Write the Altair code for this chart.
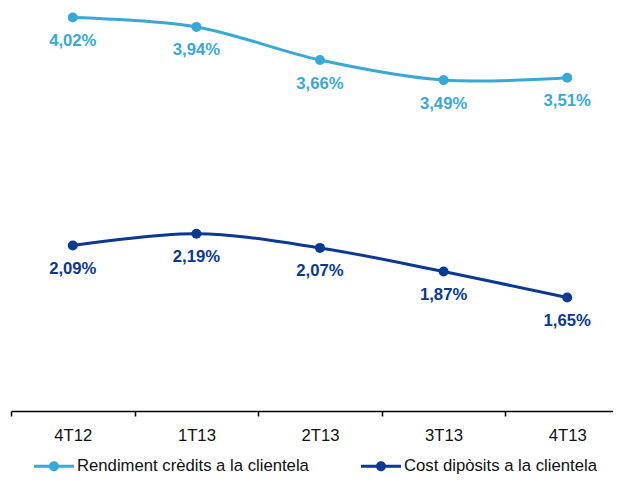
import altair as alt
import pandas as pd

periods = ["4T12", "1T13", "2T13", "3T13", "4T13"]
series_names = ["Rendiment crèdits a la clientela", "Cost dipòsits a la clientela"]
rendiment = [4.02, 3.94, 3.66, 3.49, 3.51]
cost = [2.09, 2.19, 2.07, 1.87, 1.65]
colors = ["#38A9D7", "#0A3893"]

rows = []
for p, v in zip(periods, rendiment):
    rows.append({"period": p, "series": series_names[0], "value": v})
for p, v in zip(periods, cost):
    rows.append({"period": p, "series": series_names[1], "value": v})
df = pd.DataFrame(rows)

FONT = "Liberation Sans"
FS = 16.7

xenc = alt.X(
    "period:N",
    sort=periods,
    bandPosition=0.5,
    scale=alt.Scale(type="band", domain=periods, paddingInner=0, paddingOuter=0,
                    range=[0, 618]),
    axis=alt.Axis(
        title=None,
        labelAngle=0,
        tickBand="extent",
        tickSize=5,
        tickColor="#000000",
        domainColor="#000000",
        domainWidth=1.5,
        tickWidth=1.5,
        labelFont=FONT,
        labelFontSize=FS,
        labelColor="#111111",
        labelPadding=11,
        grid=False,
    ),
)
yenc = alt.Y(
    "value:Q",
    scale=alt.Scale(domain=[0.69, 4.1], nice=False, zero=False),
    axis=None,
)
color_scale = alt.Scale(domain=series_names, range=colors)

legend = alt.Legend(
    title=None,
    orient="none",
    legendX=23,
    legendY=438,
    direction="horizontal",
    symbolType="M-1,-0.075H1V0.075H-1ZM0.25,0A0.25,0.25,0,1,1,-0.25,0A0.25,0.25,0,1,1,0.25,0Z",
    symbolSize=1600,
    symbolStrokeWidth=0,
    labelFont=FONT,
    labelFontSize=FS,
    labelColor="#111111",
    labelOffset=3,
    columnPadding=52,
    labelLimit=400,
    padding=0,
)

base = alt.Chart(df)

lines = base.mark_line(interpolate="cardinal", strokeWidth=3).encode(
    x=xenc, y=yenc,
    color=alt.Color("series:N", scale=color_scale, legend=legend),
    detail="series:N",
)

points = base.mark_circle(size=100, opacity=1).encode(
    x=xenc, y=yenc,
    fill=alt.Fill("series:N", scale=color_scale, legend=legend),
)

labels = base.mark_text(
    font=FONT, fontSize=FS, fontWeight="bold", dy=23.5, baseline="middle", align="center"
).transform_calculate(
    label="replace(format(datum.value, '.2f'), '.', ',') + '%'"
).encode(
    x=xenc, y=yenc,
    text="label:N",
    color=alt.Color("series:N", scale=color_scale, legend=None),
)

chart = alt.layer(lines, points, labels).properties(
    width=602,
    height=403,
    autosize=alt.AutoSizeParams(type="none"),
    padding={"left": 3, "top": 0, "right": 0, "bottom": 65},
).configure_view(stroke=None)

chart.save("out.html", embed_options={"renderer": "svg", "actions": False})
